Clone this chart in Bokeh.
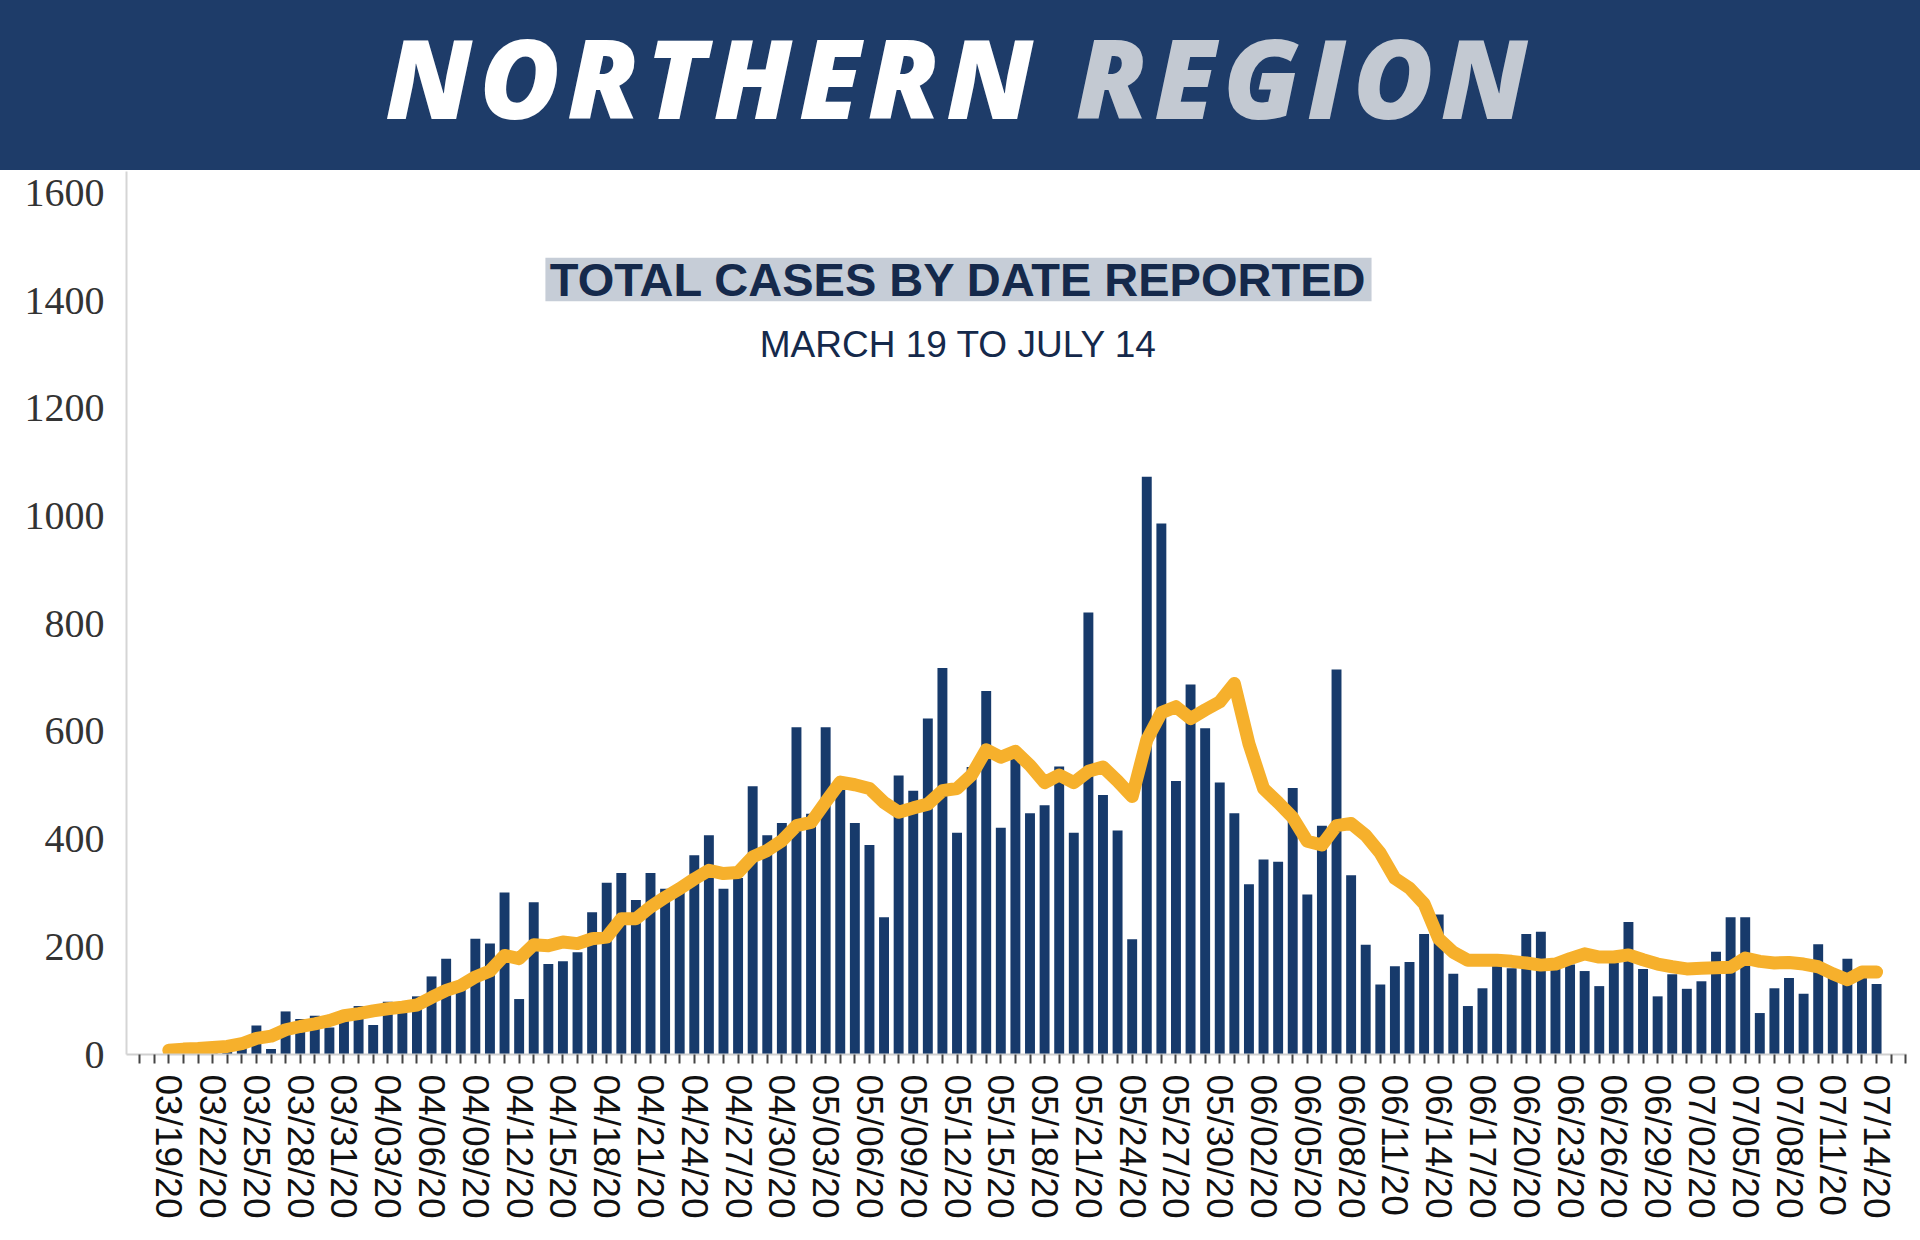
from bokeh.plotting import figure
from bokeh.models import Range1d, FixedTicker, Label, BoxAnnotation, Div
from bokeh.layouts import column
from bokeh.embed import file_html
from bokeh.resources import INLINE

# daily cases, 03/19/20 .. 07/14/20
cases = [6, 9, 11, 14, 16, 20, 54, 10, 80, 66,
         72, 50, 79, 90, 55, 98, 80, 108, 145, 178,
         130, 215, 206, 301, 103, 283, 168, 173, 190, 264,
         319, 337, 287, 337, 308, 310, 370, 407, 308, 328,
         498, 407, 430, 608, 447, 608, 500, 430, 389, 255,
         518, 490, 624, 718, 412, 534, 675, 421, 550, 448,
         463, 535, 412, 821, 482, 416, 214, 1073, 986, 508,
         687, 606, 505, 448, 316, 362, 358, 495, 297, 425,
         715, 333, 204, 130, 164, 172, 224, 260, 150, 90,
         123, 165, 160, 224, 228, 160, 167, 155, 127, 170,
         246, 159, 108, 149, 122, 136, 191, 255, 255, 77,
         123, 142, 113, 205, 155, 178, 160, 131]

# orange trend line
avg = [8, 10, 11, 13, 15, 20, 30, 34, 46, 52,
       57, 63, 72, 76, 81, 85, 88, 92, 106, 119,
       128, 144, 155, 184, 178, 204, 202, 209, 206, 215,
       218, 252, 252, 274, 292, 308, 326, 342, 336, 338,
       367, 379, 397, 425, 431, 469, 506, 501, 494, 468,
       450, 458, 465, 490, 494, 519, 566, 552, 563, 537,
       505, 519, 505, 526, 534, 508, 479, 584, 635, 646,
       624, 640, 655, 689, 577, 494, 468, 440, 396, 389,
       425, 429, 407, 374, 327, 309, 280, 215, 190, 175,
       175, 175, 173, 170, 166, 168, 178, 187, 181, 181,
       185, 176, 168, 163, 159, 160, 161, 162, 179, 173,
       170, 171, 168, 163, 150, 139, 153, 153]

tick_labels = ["03/19/20", "03/22/20", "03/25/20", "03/28/20", "03/31/20",
               "04/03/20", "04/06/20", "04/09/20", "04/12/20", "04/15/20",
               "04/18/20", "04/21/20", "04/24/20", "04/27/20", "04/30/20",
               "05/03/20", "05/06/20", "05/09/20", "05/12/20", "05/15/20",
               "05/18/20", "05/21/20", "05/24/20", "05/27/20", "05/30/20",
               "06/02/20", "06/05/20", "06/08/20", "06/11/20", "06/14/20",
               "06/17/20", "06/20/20", "06/23/20", "06/26/20", "06/29/20",
               "07/02/20", "07/05/20", "07/08/20", "07/11/20", "07/14/20"]

y_ticks = [0, 200, 400, 600, 800, 1000, 1200, 1400, 1600]

NAVY = "#1E3C69"
BAR = "#173A6B"
GOLD = "#F6B02C"
TEXT_NAVY = "#15294B"

# banner (html, so the two colours can sit in one line)
banner_html = (
    '<div style="width:1920px;height:170px;box-sizing:border-box;padding-top:21px;'
    'background:%s;text-align:center;white-space:nowrap;overflow:hidden;'
    "font-family:'Open Sans';font-style:italic;font-weight:800;font-size:110px;"
    'line-height:110px;letter-spacing:7px;">'
    '<span style="color:#FFFFFF">NORTHERN</span> '
    '<span style="color:#C3C9D2">REGION</span></div>' % NAVY
)
head = Div(text=banner_html, width=1920, height=170, margin=0)

# chart
xs = list(range(len(cases)))
p = figure(width=1920, height=1070, x_range=Range1d(-2.9, 119.05), y_range=Range1d(0, 1640),
           min_border_left=126, min_border_right=14, min_border_top=1, min_border_bottom=186,
           output_backend="svg", toolbar_location=None)
p.grid.visible = False
p.outline_line_color = None

p.vbar(x=xs, top=cases, width=0.68, fill_color=BAR, line_color=None)
p.line(xs, avg, line_width=13, line_color=GOLD, line_join="round", line_cap="round")

# title block
p.add_layout(BoxAnnotation(left=25.8, right=82.4, bottom=1399, top=1480,
                           fill_color="#C6CDD7", fill_alpha=1.0, line_color=None))
p.add_layout(Label(x=54.1, y=1439, text="TOTAL CASES BY DATE REPORTED", text_align="center",
                   text_baseline="middle", text_font="Liberation Sans", text_font_style="bold",
                   text_font_size="47px", text_color=TEXT_NAVY))
p.add_layout(Label(x=54.1, y=1319, text="MARCH 19 TO JULY 14", text_align="center",
                   text_baseline="middle", text_font="Liberation Sans",
                   text_font_size="37px", text_color=TEXT_NAVY))

# y axis
p.yaxis.ticker = FixedTicker(ticks=y_ticks)
p.yaxis.axis_line_color = "#D5D5D5"
p.yaxis.axis_line_width = 2
p.yaxis.major_tick_line_color = None
p.yaxis.minor_tick_line_color = None
p.yaxis.major_label_standoff = 16
p.yaxis.major_label_text_font = "Liberation Serif"
p.yaxis.major_label_text_font_size = "40px"
p.yaxis.major_label_text_color = "#333333"

# x axis: a tick per day, label every third day
overrides = {i: "" for i in range(-2, 120)}
for k, lab in enumerate(tick_labels):
    overrides[k * 3] = lab
p.xaxis.ticker = FixedTicker(ticks=list(range(-2, 120)), minor_ticks=[])
p.xaxis.major_label_overrides = overrides
p.xaxis.major_label_orientation = "vertical"
p.xaxis.axis_line_color = "#D0D0D0"
p.xaxis.axis_line_width = 2
p.xaxis.major_tick_line_color = "#444444"
p.xaxis.major_tick_line_width = 2
p.xaxis.major_tick_out = 9
p.xaxis.major_tick_in = 0
p.xaxis.major_label_standoff = 11
p.xaxis.major_label_text_font = "Liberation Sans"
p.xaxis.major_label_text_font_size = "37px"
p.xaxis.major_label_text_color = "#111111"

layout = column(head, p, spacing=0)
open("out.html", "w").write(file_html(layout, INLINE))
